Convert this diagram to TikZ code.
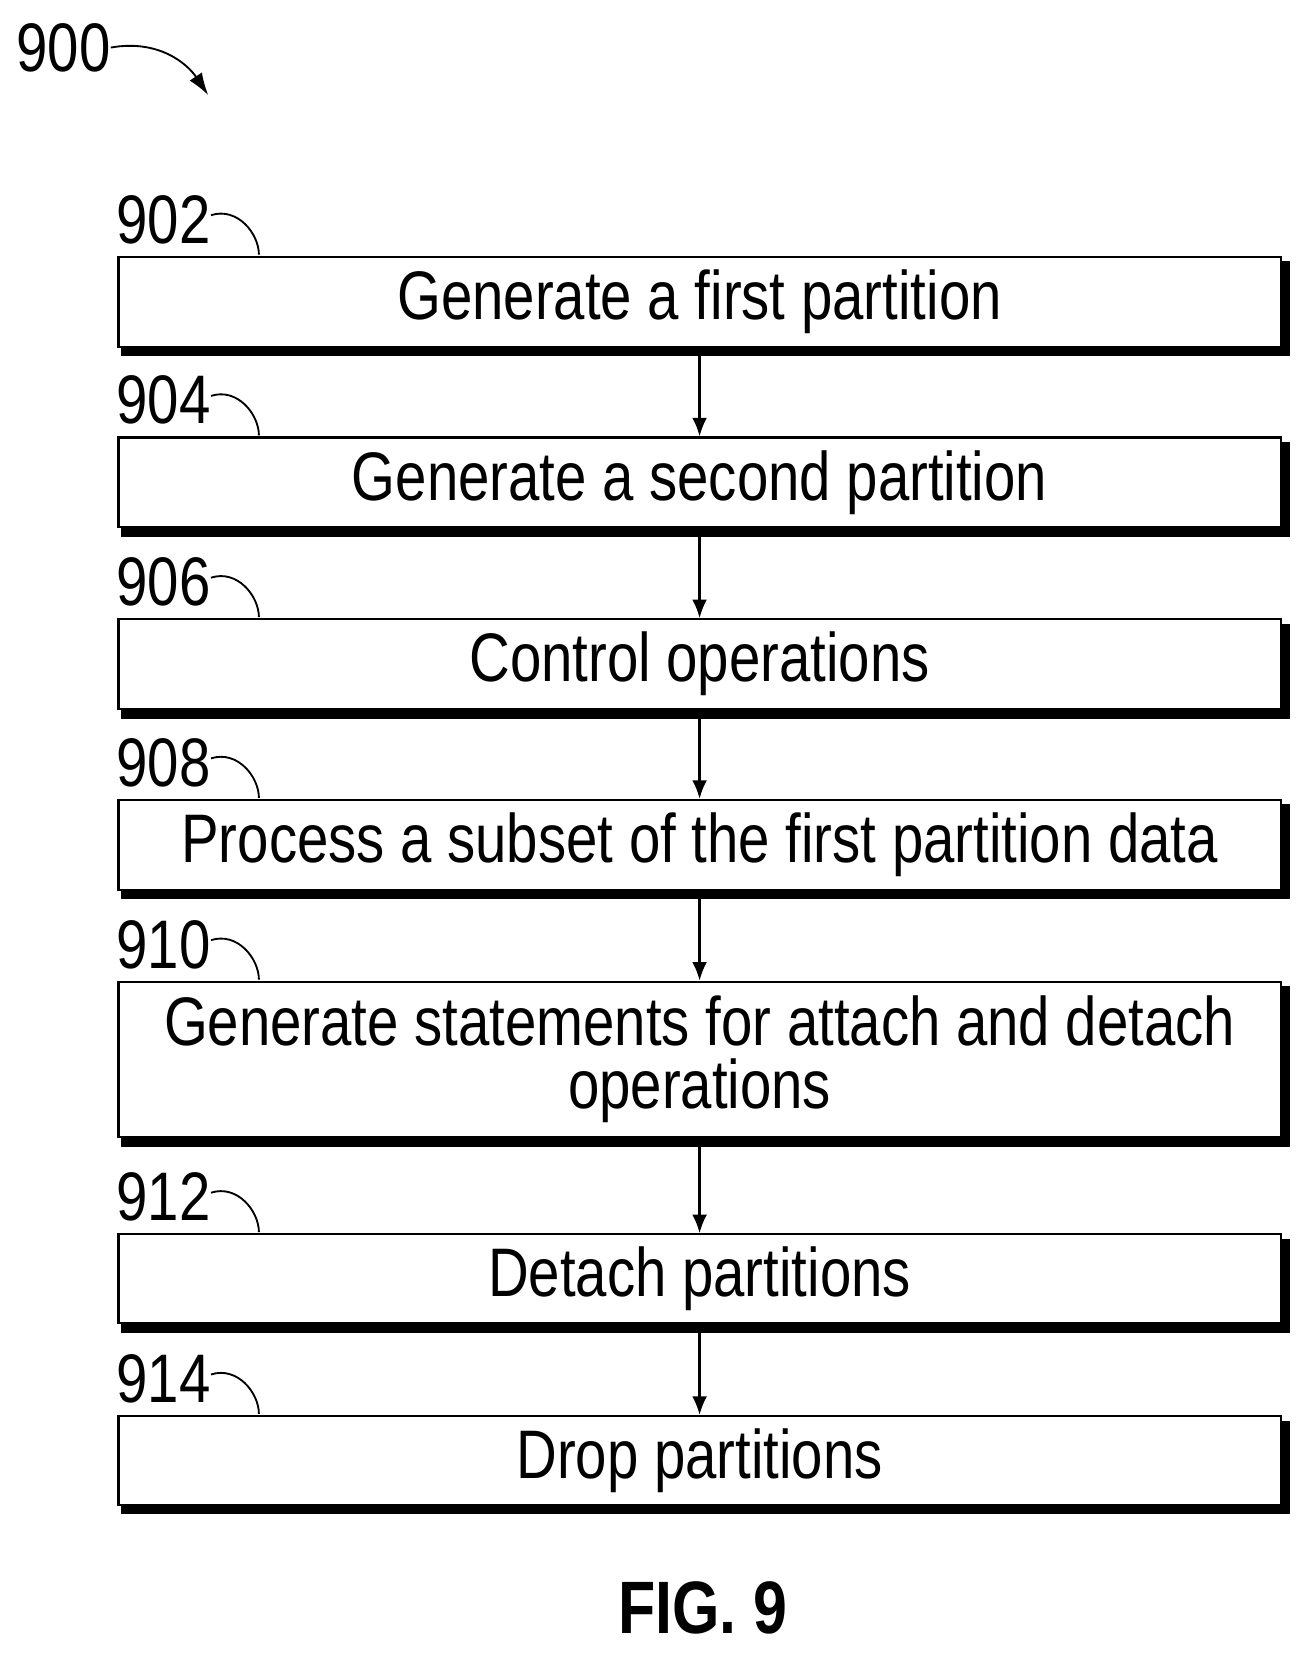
\documentclass[tikz,border=0pt]{standalone}
\usepackage{fontspec}
\setmainfont[FakeStretch=0.82]{Liberation Sans}
\begin{document}
\begin{tikzpicture}[x=0.02cm,y=-0.02cm,
  box/.style={draw,line width=1.2pt,minimum width=22cm,inner sep=0pt,align=center,font=\fontsize{37}{34}\selectfont},
  num/.style={font=\fontsize{37}{44}\selectfont,inner sep=0pt},
  lead/.style={line width=1pt},
  arr/.style={line width=1.2pt,-{Latex[length=10pt,width=8pt]}}]
\usetikzlibrary{arrows.meta}
\useasboundingbox (0,0) rectangle (1240,1568);
\def\bx#1#2#3#4#5{%
  \node[box,minimum height={(#3-#2)*0.02cm}] (#1) at (662,{(#2+#3)/2}) {#4};
  \fill ([xshift=0pt,yshift=-3pt]#1.north east) rectangle ([xshift=4.5pt,yshift=-4.5pt]#1.south east);
  \fill ([xshift=2pt,yshift=0pt]#1.south west) rectangle ([xshift=4.5pt,yshift=-4.5pt]#1.south east);
  \node[num,anchor=south west] (n#1) at (110,{#2-12}) {#5};
  \coordinate (c#1) at (245,{#2-2});
  \draw[lead] (n#1.east) ++(0,-4) .. controls +(25,-8) and +(0,-20) .. (c#1);
}
\bx{a}{243}{328}{Generate a first partition}{902}
\bx{b}{414}{499}{Generate a second partition}{904}
\bx{c}{586}{671}{Control operations}{906}
\bx{d}{757}{842}{Process a subset of the first partition data}{908}
\bx{e}{929}{1076}{Generate statements for attach and detach\\operations}{910}
\bx{f}{1168}{1252}{Detach partitions}{912}
\bx{g}{1340}{1424}{Drop partitions}{914}
\foreach \p/\q in {a/b,b/c,c/d,d/e,e/f,f/g}{\draw[arr] ([yshift=-4.5pt]\p.south) -- (\q.north);}
\node[num] (t900) at (60,45) {900};
\coordinate (a900) at (197,90);
\draw[lead,-{Latex[length=12pt,width=8pt]}] (t900.east) .. controls +(45,-8) and +(-20,-30) .. (a900);
\node[font=\fontsize{40}{48}\selectfont\bfseries] (fig) at (665,1522) {FIG. 9};
\end{tikzpicture}
\end{document}
